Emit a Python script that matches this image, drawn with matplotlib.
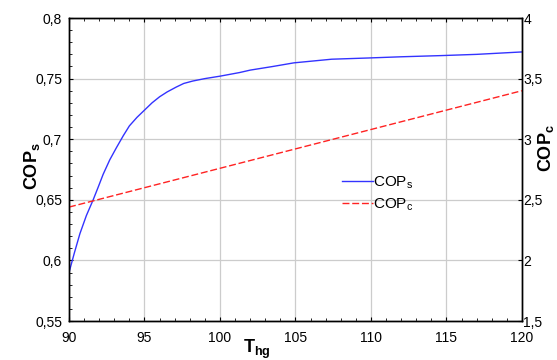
import matplotlib
matplotlib.use("Agg")
import matplotlib.pyplot as plt
from matplotlib.ticker import FuncFormatter, MultipleLocator

plt.rcParams['font.family'] = ['Liberation Sans', 'DejaVu Sans']

T_s = [90.0, 90.35, 90.72, 91.15, 91.6, 91.95, 92.26, 92.7, 93.14, 93.6, 94.0, 94.5, 95.0, 95.5, 96.0,
       96.5, 97.1, 97.6, 98.2, 99.0, 100.0, 101.3, 102.0, 103.5, 104.9, 107.4, 109.8, 112.0, 114.7, 117.0, 120.0]
cop_s = [0.590, 0.606, 0.622, 0.637, 0.650, 0.661, 0.671, 0.683, 0.693, 0.703, 0.711, 0.718, 0.724, 0.730, 0.735,
         0.739, 0.743, 0.746, 0.748, 0.750, 0.752, 0.755, 0.757, 0.760, 0.763, 0.766, 0.767, 0.768, 0.769, 0.770, 0.772]
T_c = [90, 95, 100, 105, 110, 115, 120]
cop_c = [2.44, 2.60, 2.76, 2.92, 3.08, 3.24, 3.40]

fig = plt.figure(figsize=(5.57, 3.6), dpi=100)
ax = fig.add_axes([0.1239, 0.1083, 0.937 - 0.1239, 0.95 - 0.1083])
ax2 = ax.twinx()

ax.plot(T_s, cop_s, color='#3333ff', lw=1.0, label='COP$_\\mathregular{s}$')
ax2.plot(T_c, cop_c, color='#ff2222', lw=1.0, ls=(0, (5, 2)), label='COP$_\\mathregular{c}$')

ax.set_xlim(90, 120)
ax.set_ylim(0.55, 0.8)
ax2.set_ylim(1.5, 4.0)
ax.xaxis.set_major_locator(MultipleLocator(5))
ax.xaxis.set_minor_locator(MultipleLocator(1))
ax.yaxis.set_major_locator(MultipleLocator(0.05))
ax.yaxis.set_minor_locator(MultipleLocator(0.01))
ax2.yaxis.set_major_locator(MultipleLocator(0.5))

comma = FuncFormatter(lambda v, p: ('%g' % round(v, 4)).replace('.', ','))
ax.xaxis.set_major_formatter(comma)
ax.yaxis.set_major_formatter(comma)
ax2.yaxis.set_major_formatter(comma)

ax.grid(True, which='major', color='#cccccc', lw=0.9)
ax.tick_params(axis='both', which='major', direction='in', length=3, labelsize=10, top=True)
ax.tick_params(axis='x', which='major', pad=7)
ax.tick_params(axis='y', which='major', pad=5)
ax.tick_params(axis='both', which='minor', direction='in', length=2, top=True)
ax.tick_params(axis='y', right=False)
ax2.tick_params(axis='y', which='major', direction='in', length=3, labelsize=10, pad=1)

for a in (ax, ax2):
    for s in a.spines.values():
        s.set_linewidth(1.0)

fig.text(32 / 557, 1 - 166 / 360, 'COP$_\\mathregular{s}$', rotation=90, ha='center', va='center',
         fontsize=13, fontweight='bold')
fig.text(546 / 557, 1 - 148 / 360, 'COP$_\\mathregular{c}$', rotation=90, ha='center', va='center',
         fontsize=13, fontweight='bold')
fig.text(257 / 557, 1 - 353 / 360, 'T$_\\mathregular{hg}$', ha='center', va='baseline',
         fontsize=13, fontweight='bold')

h1, l1 = ax.get_legend_handles_labels()
h2, l2 = ax2.get_legend_handles_labels()
ax.legend(h1 + h2, l1 + l2, loc='center left', bbox_to_anchor=(0.573, 0.42), frameon=False,
          fontsize=11, handlelength=2.0, handletextpad=0.0, labelspacing=0.3)

fig.savefig('out.png', dpi=100)
